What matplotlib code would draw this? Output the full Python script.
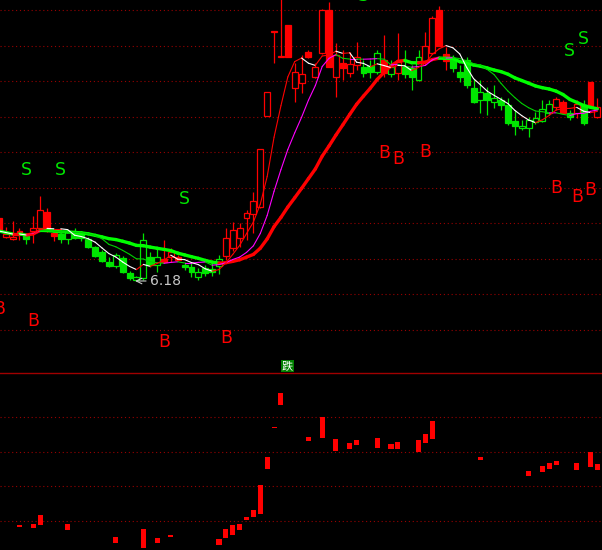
import numpy as np
import pandas as pd
import matplotlib
matplotlib.use("Agg")
import matplotlib.pyplot as plt
from matplotlib.collections import LineCollection

# ---------------- data (price units) ----------------
opens = [7.44, 7.06, 7.02, 7.18, 7.10, 7.18, 7.24, 7.56, 7.14, 7.12,
         7.02, 7.16, 7.12, 7.02, 6.86, 6.76, 6.56, 6.48, 6.64, 6.34,
         6.20, 6.24, 6.66, 6.50, 6.62, 6.66, 6.66, 6.50, 6.46, 6.26,
         6.44, 6.42, 6.48, 6.68, 6.84, 7.04, 7.44, 7.52, 7.66, 9.48,
         11.17, 10.66, 11.30, 10.04, 10.14, 10.76, 10.26, 10.74, 11.60, 10.26,
         10.54, 10.34, 10.50, 10.46, 10.48, 10.36, 10.60, 10.32, 10.34, 10.46,
         10.44, 10.20, 10.58, 10.74, 11.60, 10.72, 10.62, 10.36, 10.60, 10.04,
         9.80, 9.94, 9.76, 9.80, 9.70, 9.38, 9.24, 9.24, 9.36, 9.38,
         9.54, 9.66, 9.76, 9.54, 9.54, 9.70, 10.16, 9.46]
highs = [7.48, 7.26, 7.38, 7.24, 7.12, 7.48, 7.88, 7.64, 7.16, 7.14,
         7.18, 7.24, 7.18, 7.06, 6.88, 6.80, 6.66, 6.74, 6.68, 6.38,
         6.28, 7.14, 6.76, 6.86, 7.00, 6.84, 6.70, 6.56, 6.56, 6.44,
         6.50, 6.56, 6.70, 7.24, 7.36, 7.34, 7.60, 7.96, 8.82, 9.96,
         11.18, 11.90, 11.30, 10.54, 10.70, 10.80, 10.54, 11.62, 11.76, 10.94,
         10.80, 10.76, 10.96, 10.60, 10.60, 10.80, 11.10, 10.60, 11.14, 10.80,
         10.50, 10.80, 11.16, 11.48, 11.68, 10.86, 10.70, 10.50, 10.66, 10.22,
         10.20, 10.06, 10.10, 9.86, 9.84, 9.60, 9.40, 9.46, 9.56, 9.80,
         9.80, 9.86, 9.80, 9.60, 9.80, 9.80, 10.16, 9.84]
lows = [7.16, 7.04, 7.00, 7.00, 6.92, 6.94, 7.22, 7.16, 6.98, 6.94,
        6.92, 7.02, 6.98, 6.84, 6.66, 6.56, 6.46, 6.44, 6.34, 6.20,
        6.18, 6.20, 6.46, 6.36, 6.54, 6.56, 6.58, 6.40, 6.26, 6.20,
        6.28, 6.28, 6.32, 6.60, 6.78, 6.86, 7.00, 7.14, 7.64, 9.48,
        10.54, 10.66, 10.66, 9.76, 9.94, 10.64, 10.24, 10.72, 10.46, 9.86,
        10.20, 10.26, 10.40, 10.26, 10.24, 10.32, 10.26, 10.26, 10.20, 10.24,
        10.00, 10.18, 10.50, 10.72, 10.88, 10.40, 10.36, 10.16, 10.04, 9.74,
        9.54, 9.50, 9.64, 9.60, 9.30, 9.10, 9.20, 9.06, 9.32, 9.36,
        9.50, 9.60, 9.52, 9.40, 9.44, 9.30, 9.66, 9.44]
closes = [7.18, 7.12, 7.06, 7.12, 7.02, 7.24, 7.60, 7.18, 7.08, 7.02,
          7.16, 7.04, 7.04, 6.86, 6.68, 6.58, 6.48, 6.70, 6.36, 6.24,
          6.26, 7.00, 6.50, 6.66, 6.56, 6.76, 6.60, 6.46, 6.36, 6.36,
          6.34, 6.36, 6.62, 7.04, 7.20, 7.24, 7.54, 7.78, 8.82, 9.96,
          11.18, 10.68, 10.66, 10.36, 10.32, 10.66, 10.46, 11.60, 10.46, 10.70,
          10.44, 10.52, 10.66, 10.34, 10.36, 10.74, 10.34, 10.46, 10.56, 10.32,
          10.26, 10.66, 10.88, 11.44, 10.88, 10.58, 10.44, 10.26, 10.10, 9.76,
          9.96, 9.80, 9.84, 9.70, 9.34, 9.28, 9.28, 9.40, 9.44, 9.62,
          9.72, 9.82, 9.54, 9.46, 9.72, 9.34, 9.68, 9.66]
# candle colour runs: (colour code, number of consecutive candles)
color_runs = [("r", 4), ("g", 1), ("r", 4), ("g", 15), ("r", 3), ("g", 6),
              ("r", 20), ("g", 3), ("r", 1), ("g", 1), ("r", 1), ("g", 3),
              ("r", 4), ("g", 15), ("r", 2), ("g", 1), ("r", 1), ("g", 1), ("r", 2)]

# buy / sell signal markers
sell_idx = [4, 9, 27, 53, 83, 85]
sell_lvl = [8.40, 8.40, 7.81, 11.88, 10.78, 11.02]
buy_idx = [0, 5, 24, 33, 56, 58, 62, 81, 84, 86]
buy_lvl = [5.62, 5.38, 4.96, 5.04, 8.74, 8.62, 8.76, 8.04, 7.86, 8.00]

low_label = "6.18"
low_idx = 20
low_val = 6.18

# lower panel floating bars
bar_idx = [3, 5, 6, 10, 17, 21, 23, 25, 32, 33, 34, 35, 36, 37, 38, 39, 40, 41,
           45, 47, 49, 51, 52, 55, 57, 58, 61, 62, 63, 70, 77, 79, 80, 81, 84, 86, 87]
bar_bot = [2.3, 2.2, 2.5, 2.0, 0.7, 0.2, 0.7, 1.3, 0.5, 1.2, 1.5, 2.0, 3.0, 3.3, 3.6, 8.1, 12.2, 14.5,
           10.9, 11.2, 9.9, 10.1, 10.5, 10.2, 10.1, 10.1, 9.8, 10.7, 11.1, 9.0, 7.4, 7.8, 8.1, 8.5, 8.0, 8.3, 8.0]
bar_top = [2.5, 2.6, 3.5, 2.6, 1.3, 2.1, 1.2, 1.5, 1.1, 2.1, 2.5, 2.6, 3.3, 4.0, 6.5, 9.3, 12.35, 15.7,
           11.3, 13.3, 11.1, 10.7, 11.0, 11.2, 10.6, 10.8, 11.0, 11.6, 12.9, 9.3, 7.9, 8.4, 8.7, 8.9, 8.7, 9.8, 8.6]
panel_label = "跌"

# ---------------- styling ----------------
RED = "#ff0000"
GREEN = "#00e600"
BG = "#000000"
GRID = "#990000"

candle_colors = []
for code, cnt in color_runs:
    candle_colors += [code] * cnt

W, H = 602, 550
fig = plt.figure(figsize=(W / 100, H / 100), dpi=100, facecolor=BG)
top_h = 373
ax1 = fig.add_axes([0, 1 - top_h / H, 1, top_h / H])
ax2 = fig.add_axes([0, 0, 1, 1 - top_h / H])

n = len(closes)
x = np.arange(n)
xlim = (0.166, 87.67)

for ax in (ax1, ax2):
    ax.set_facecolor(BG)
    ax.set_xlim(*xlim)
    ax.tick_params(left=False, bottom=False, labelleft=False, labelbottom=False)
    for s in ax.spines.values():
        s.set_visible(False)

ax1.set_ylim(4.34, 11.80)
ax1.set_yticks([11.60, 10.89, 10.18, 9.47, 8.76, 8.05, 7.34, 6.63, 5.92, 5.21])
ax1.grid(axis="y", color=GRID, linestyle=(0, (1, 2.5)), linewidth=0.8)
ax1.set_axisbelow(True)

# candles
col_map = {"r": RED, "g": GREEN}
bw = 0.86
for i in range(n):
    c = col_map[candle_colors[i]]
    o, h, l, cl = opens[i], highs[i], lows[i], closes[i]
    ax1.vlines(x[i], l, h, color=c, linewidth=0.9, zorder=2)
    lo, hi = min(o, cl), max(o, cl)
    filled = cl < o
    ax1.bar(x[i], max(hi - lo, 0.004), bottom=lo, width=bw,
            facecolor=c if filled else BG, edgecolor=c, linewidth=0.9, zorder=3)

# moving averages
cs = pd.Series(closes)
def draw_ma(period, up_col, down_col, lw):
    ma = cs.rolling(period, min_periods=1).mean().to_numpy()
    segs, cols = [], []
    for i in range(1, n):
        segs.append([(x[i - 1], ma[i - 1]), (x[i], ma[i])])
        cols.append(up_col if ma[i] >= ma[i - 1] else down_col)
    ax1.add_collection(LineCollection(segs, colors=cols, linewidths=lw, zorder=5,
                                      capstyle="round"))

draw_ma(20, RED, "#00ff00", 2.4)
draw_ma(10, "#ff00ff", "#00d000", 0.8)
draw_ma(5, RED, "#ffffff", 0.8)

# signals
for i, lv in zip(sell_idx, sell_lvl):
    ax1.text(i, lv, "S", color=GREEN, fontsize=12.5, ha="center", va="center", zorder=6)
for i, lv in zip(buy_idx, buy_lvl):
    ax1.text(i, lv, "B", color=RED, fontsize=12.5, ha="center", va="center", zorder=6)

ax1.annotate(low_label, xy=(low_idx - 0.2, low_val), xytext=(low_idx + 2.0, low_val),
             color="#c8c8c8", fontsize=10, va="center", ha="left",
             arrowprops=dict(arrowstyle="->", color="#c8c8c8", lw=0.8,
                             shrinkA=1, shrinkB=0), zorder=6)

ax1.text(41.95, 4.48, panel_label, color="white", fontsize=8,
         family=["Noto Sans CJK SC", "DejaVu Sans"], ha="center", va="center",
         bbox=dict(facecolor="#008000", edgecolor="none", pad=0.8), zorder=6)

# lower panel
ax2.set_ylim(0, 17.7)
ax2.set_yticks([2.9, 6.4, 9.8, 13.3])
ax2.grid(axis="y", color=GRID, linestyle=(0, (1, 2.5)), linewidth=0.8)
ax2.set_axisbelow(True)
ax2.spines["top"].set_visible(True)
ax2.spines["top"].set_color("#a00000")
ax2.spines["top"].set_linewidth(1.0)
heights = np.array(bar_top) - np.array(bar_bot)
ax2.bar(bar_idx, heights, bottom=bar_bot, width=0.73, color=RED, zorder=3)

fig.savefig("out.png", dpi=100, facecolor=BG)
